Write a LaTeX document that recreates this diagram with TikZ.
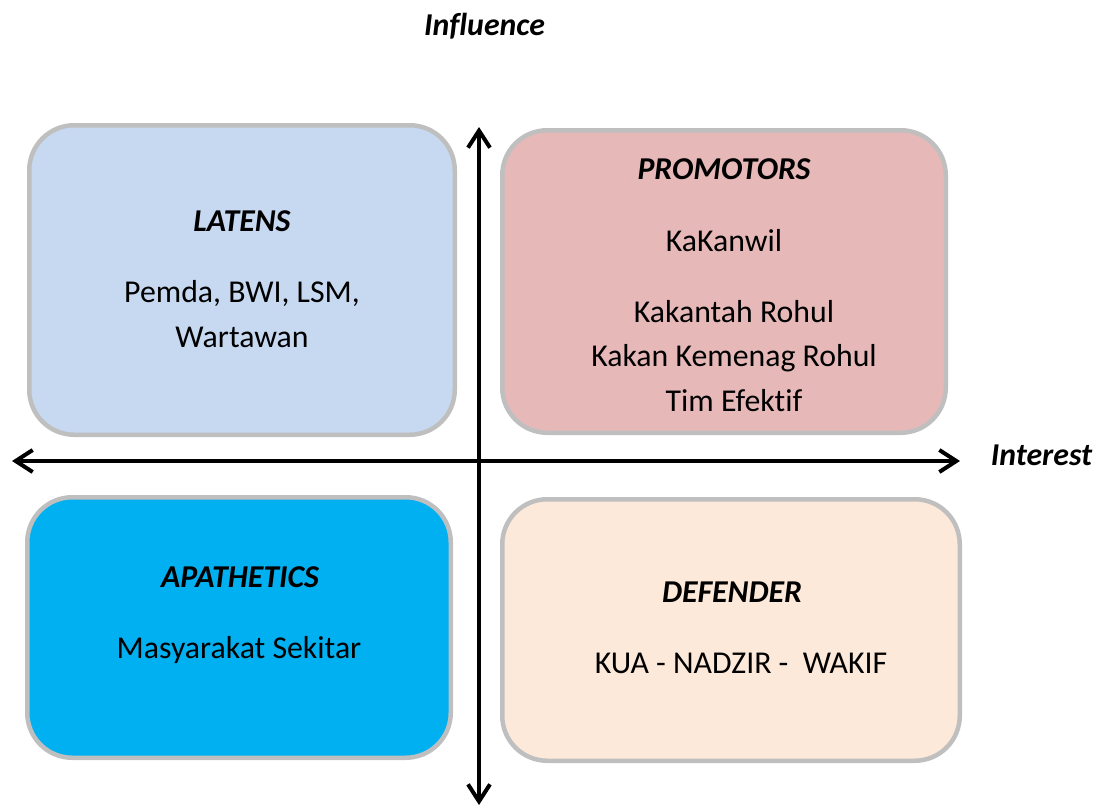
\documentclass[tikz,border=0pt]{standalone}
\usepackage{fontspec}
\setmainfont{Carlito}[Ligatures=CommonOff]
\usepackage{xcolor}
\usepackage{tikz}
\usetikzlibrary{arrows.meta}
\definecolor{latensBlue}{HTML}{C6D9F1}
\definecolor{promotorRed}{HTML}{E6B9B8}
\definecolor{apathCyan}{HTML}{00B0F0}
\definecolor{defenderPeach}{HTML}{FDE9D9}
\definecolor{quadGray}{HTML}{BFBFBF}

\begin{document}
\begin{tikzpicture}[x=1pt, y=-1pt,
        quad/.style={draw=quadGray, line width=4.5pt, rounded corners=45pt, inner sep=0pt},
        head/.style={anchor=base, font=\fontsize{31.8}{38}\selectfont\bfseries\itshape},
        body/.style={anchor=base, font=\fontsize{31.8}{38}\selectfont},
        axis/.style={line width=4pt, {Straight Barb[length=17pt,width=22pt]}-{Straight Barb[length=17pt,width=22pt]}}]
                \useasboundingbox (0,0) rectangle (1099,806);
                \node[quad, fill=latensBlue, minimum width=425.5pt, minimum height=309.5pt] (latens) at (242,280) {};
                \node[quad, fill=promotorRed, minimum width=443.5pt, minimum height=302.5pt] (promotors) at (724,281.5) {};
                \node[quad, fill=apathCyan, minimum width=423.5pt, minimum height=260.5pt] (apathetics) at (239,627.5) {};
                \node[quad, fill=defenderPeach, minimum width=457.5pt, minimum height=261.5pt] (defender) at (731,630) {};
                \coordinate (infTop) at (479,127);
                \coordinate (infBot) at (479,805);
                \coordinate (intLeft) at (12,461);
                \coordinate (intRight) at (960,461);
                \draw[axis] (infBot) -- (infTop);
                \draw[axis] (intLeft) -- (intRight);
                \node[head] (influence) at (484.5,35) {Influence};
                \node[head] (interest) at (1041.5,465) {Interest};
                \node[head] (latensHead) at (242,231) {LATENS};
                \node[body] (latens0) at (242,302) {Pemda, BWI, LSM,};
                \node[body] (latens1) at (242,347) {Wartawan};
                \node[head] (promotorsHead) at (724,179) {PROMOTORS};
                \node[body] (kanwil) at (724,251) {KaKanwil};
                \foreach \txt [count=\i from 0] in {Kakantah Rohul, Kakan Kemenag Rohul, Tim Efektif}
                    \node[body] (promotors\i) at (734,{322+44.5*\i}) {\txt};
                \node[head] (apatheticsHead) at (240,587) {APATHETICS};
                \node[body] (apathetics0) at (239,658) {Masyarakat Sekitar};
                \node[head] (defenderHead) at (732,602) {DEFENDER};
                \node[body] (defender0) at (741,673) {KUA - NADZIR -\ \ WAKIF};
\end{tikzpicture}
\end{document}
